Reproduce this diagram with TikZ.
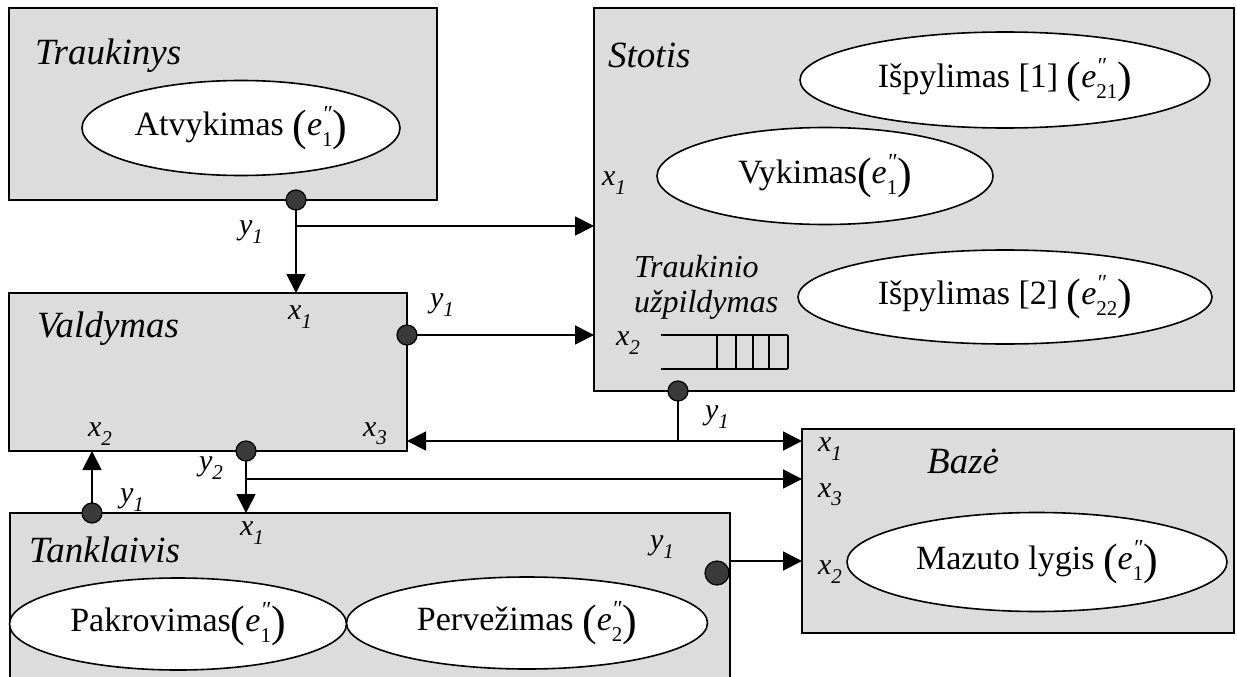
\documentclass[tikz,border=0pt]{standalone}
\usepackage{fontspec}
\setmainfont{Liberation Serif}
\usetikzlibrary{arrows.meta,shapes.geometric}
\definecolor{boxgray}{RGB}{220,220,220}
\definecolor{dotgray}{RGB}{58,58,58}
\newcommand{\bigpar}[1]{{\fontsize{44}{44}\selectfont\raisebox{-0.12em}{#1}}}
\newcommand{\ee}[1]{\bigpar{(}\textit{e}\rlap{\raisebox{0.42em}{\fontsize{23}{23}\selectfont\textit{″}}}\raisebox{-0.32em}{\fontsize{21}{21}\selectfont #1}\bigpar{)}}
\newcommand{\pl}[2]{#1\raisebox{-0.28em}{\fontsize{21}{21}\selectfont #2}}
\tikzset{
 box/.style={draw=black, fill=boxgray, line width=1.8pt, rectangle, inner sep=0pt, outer sep=0pt},
 ell/.style={draw=black, fill=white, line width=1.6pt, ellipse, inner sep=0pt, outer sep=0pt, font=\fontsize{34}{37}\selectfont},
 title/.style={font=\fontsize{37}{40}\selectfont\itshape, anchor=base west, inner sep=0pt},
 sub/.style={font=\fontsize{32}{34}\selectfont\itshape, anchor=base west, inner sep=0pt},
 lab/.style={font=\fontsize{30}{32}\selectfont\itshape, inner sep=0pt},
 port/.style={circle, draw=black, fill=dotgray, line width=1.2pt, minimum size=20pt, inner sep=0pt, outer sep=0pt},
 conn/.style={line width=1.8pt},
 arr/.style={conn, -{Triangle[length=19pt,width=19pt]}},
}
\begin{document}
\begin{tikzpicture}[x=1pt,y=-1pt]
\useasboundingbox (0,0) rectangle (1237,677);
% blocks
\node[box, minimum width=428pt, minimum height=192pt] (trauk) at (223,104) {};
\node[box, minimum width=640pt, minimum height=383pt] (stotis) at (914,199.5) {};
\node[box, minimum width=398pt, minimum height=158pt] (vald) at (208,372) {};
\node[box, minimum width=432pt, minimum height=204pt] (baze) at (1018,531) {};
\node[box, minimum width=720pt, minimum height=187pt] (tank) at (370,606.5) {};
% titles
\node[title] (tTrauk) at (35,65) {Traukinys};
\node[title] (tStot) at (608,67) {Stotis};
\node[title] (tVald) at (37,337) {Valdymas};
\node[title] (tBaze) at (927,473) {Bazė};
\node[title] (tTank) at (29,562) {Tanklaivis};
\node[sub] (tTr1) at (634,277) {Traukinio};
\node[sub] (tTr2) at (634,312) {užpildymas};
% ellipses
\node[ell, minimum width=318pt, minimum height=95pt] (atv) at (241,128) {Atvykimas \ee{1}};
\node[ell, minimum width=410pt, minimum height=96pt] (isp1) at (1005,80) {Išpylimas [1] \ee{21}};
\node[ell, minimum width=336pt, minimum height=97pt] (vyk) at (825,176) {Vykimas\ee{1}};
\node[ell, minimum width=414pt, minimum height=94pt] (isp2) at (1005,297) {Išpylimas [2] \ee{22}};
\node[ell, minimum width=380pt, minimum height=99pt] (maz) at (1037,562) {Mazuto lygis \ee{1}};
\node[ell, minimum width=337pt, minimum height=92pt] (pak) at (178,624) {Pakrovimas\ee{1}};
\node[ell, minimum width=361pt, minimum height=92pt] (perv) at (527,623) {Pervežimas \ee{2}};
% queue
\draw[line width=1.6pt] (661,335) -- (788,335) (661,369) -- (788,369)
  (717,335) -- (717,369) (736,335) -- (736,369) (753,335) -- (753,369)
  (769,335) -- (769,369) (788,335) -- (788,369);
% port labels
\node[lab] (lTy1) at (251,232) {\pl{y}{1}};
\node[lab] (lSx1) at (614,183) {\pl{x}{1}};
\node[lab] (lSx2) at (628,343) {\pl{x}{2}};
\node[lab] (lVx1) at (300,317) {\pl{x}{1}};
\node[lab] (lVy1) at (442,305) {\pl{y}{1}};
\node[lab] (lVx2) at (100,434) {\pl{x}{2}};
\node[lab] (lVx3) at (375,434) {\pl{x}{3}};
\node[lab] (lVy2) at (211,468) {\pl{y}{2}};
\node[lab] (lKy1) at (132,500) {\pl{y}{1}};
\node[lab] (lKx1) at (252,533) {\pl{x}{1}};
\node[lab] (lKy1r) at (662,547) {\pl{y}{1}};
\node[lab] (lSy1) at (717,417) {\pl{y}{1}};
\node[lab] (lBx1) at (830,449) {\pl{x}{1}};
\node[lab] (lBx3) at (830,495) {\pl{x}{3}};
\node[lab] (lBx2) at (830,572) {\pl{x}{2}};
% ports
\node[port] (pTr) at (296,200) {};
\node[port] (pVr) at (407,335) {};
\node[port] (pVb) at (246,451) {};
\node[port] (pSt) at (678,391) {};
\node[port] (pTl) at (92,513) {};
\node[port, minimum size=24pt] (pTk) at (717,573) {};
% branch points
\coordinate (bT) at (296,226);
\coordinate (bS) at (678,441);
\coordinate (bV) at (246,479);
\coordinate (cK) at (730,561);
% connectors
\draw[arr] (pTr.south) -- (vald.north -| pTr);
\draw[arr] (bT) -- (stotis.west |- bT);
\draw[arr] (pVr.east) -- (stotis.west |- pVr);
\draw[conn] (pSt.south) -- (bS);
\draw[arr] (bS) -- (vald.east |- bS);
\draw[arr] (bS) -- (baze.west |- bS);
\draw[arr] (pVb.south) -- (tank.north -| pVb);
\draw[arr] (bV) -- (baze.west |- bV);
\draw[arr] (pTl.north) -- (vald.south -| pTl);
\draw[arr] (cK) -- (baze.west |- cK);
\end{tikzpicture}
\end{document}
